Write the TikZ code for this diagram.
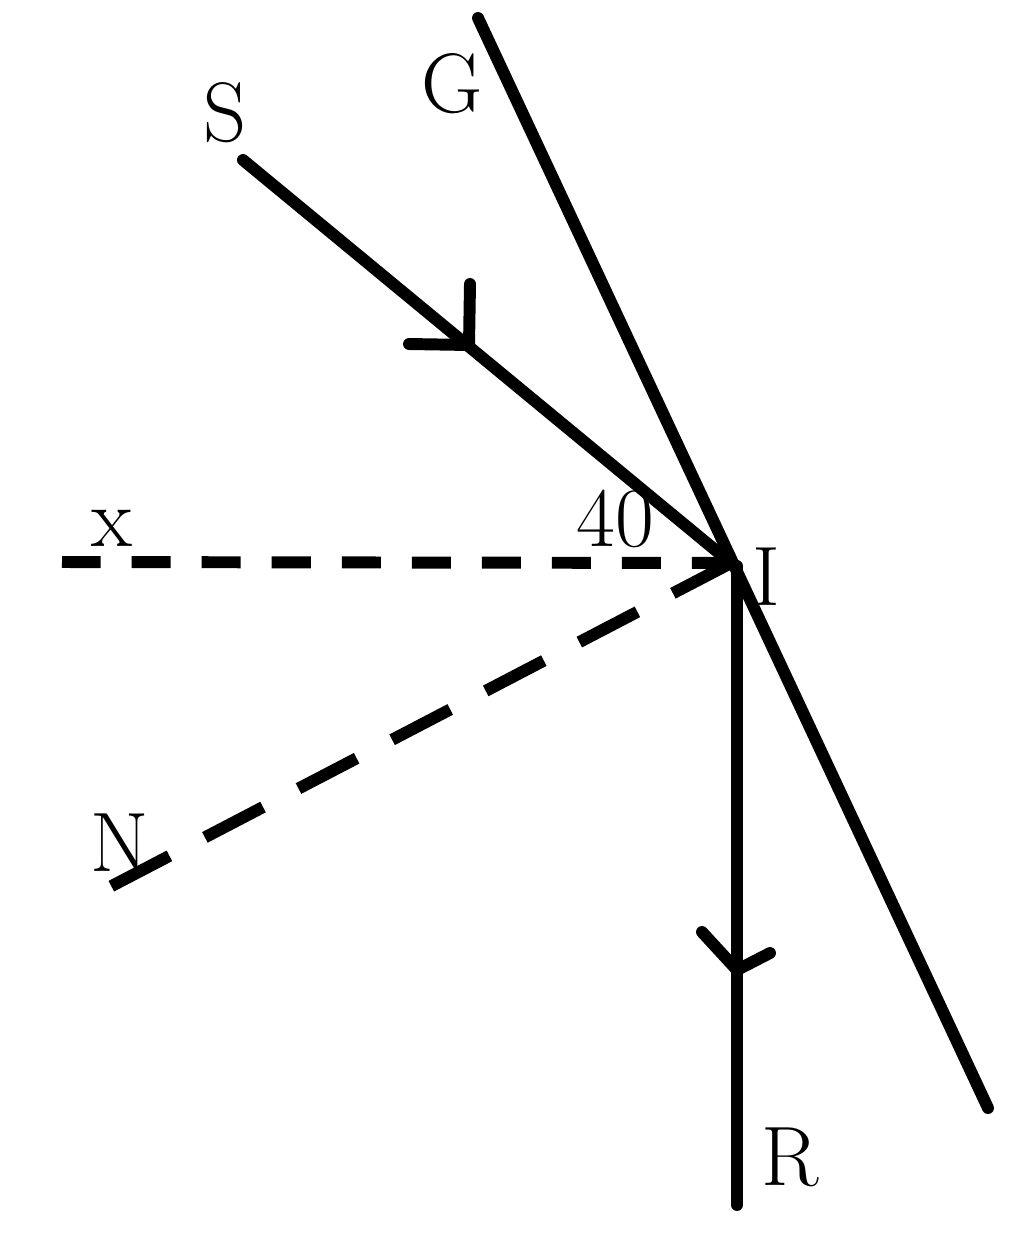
\documentclass[tikz,border=0pt]{standalone}
\begin{document}
\begin{tikzpicture}[x=0.01cm,y=-0.01cm,
  ray/.style={line width=3.4pt, line cap=round, line join=round},
  dashray/.style={line width=3.4pt, line cap=butt},
  lbl/.style={font=\fontsize{24}{28}\selectfont, inner sep=0pt}]
\useasboundingbox (0,0) rectangle (1024,1236);
% key points
\coordinate (I) at (731,563);
\coordinate (Gt) at (478,18);
\coordinate (Gb) at (988,1108);
\coordinate (Sp) at (243,160);
\coordinate (Xp) at (62,562);
\coordinate (Np) at (104,890);
\coordinate (Rs) at (737,566);
\coordinate (Rp) at (737,1205);
% arrow marks
\coordinate (SA) at (469,345);
\coordinate (SA1) at (470,284);
\coordinate (SA2) at (409,344);
\coordinate (RA) at (737,970);
\coordinate (RA1) at (702,932);
\coordinate (RA2) at (770,953);
% mirror G
\draw[ray] (Gt) -- (Gb);
% incident ray S -> I
\draw[ray] (Sp) -- (I);
\draw[ray] (SA1) -- (SA) -- (SA2);
% reflected ray I -> R
\draw[ray] (Rs) -- (Rp);
\draw[ray] (RA1) -- (RA) -- (RA2);
% dashed x line
\draw[dashray, dash pattern=on 0.39cm off 0.31cm] (I) -- (Xp);
% dashed normal N
\draw[dashray, dash pattern=on 0.655cm off 0.40cm] (I) -- (Np);
% labels
\node[lbl] (lS) at (225,113) {S};
\node[lbl] (lG) at (452,84) {G};
\node[lbl] (lx) at (112,528) {x};
\node[lbl] (l40) at (615,519) {40};
\node[lbl] (lI) at (766,577) {I};
\node[lbl] (lN) at (120,843) {N};
\node[lbl] (lR) at (790,1157) {R};
\end{tikzpicture}
\end{document}
